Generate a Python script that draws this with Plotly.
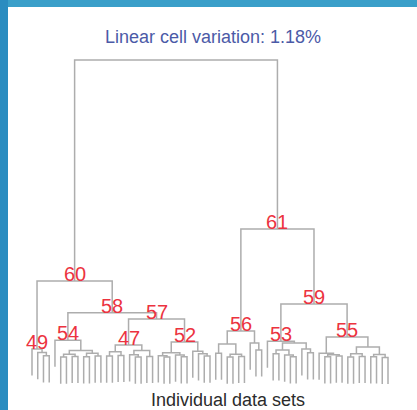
import plotly.graph_objects as go

# ---------------- data ----------------
# Dendrogram: every internal node is (merge height, left child, right child);
# L marks a single data set (leaf). Leaves are placed left to right in order.
L = None
HANG = 8.2  # how far each leaf hangs below its parent merge

c49 = (11.1, L, (10.0, L, (9.0, L, L)))
c54 = (13.8, L, (10.6, (9.5, (8.6, L, L), (8.8, L, L)),
                       (9.8, (8.7, L, L), (8.9, L, L))))
c47 = (12.3, (10.2, (8.9, L, L), (9.1, L, L)),
             (10.6, (9.3, L, (8.6, L, L)), (8.8, L, L)))
c52 = (13.2, (9.9, (9.0, L, (8.6, L, L)), (9.2, L, (8.7, L, L))),
             (10.4, L, (9.6, L, (8.9, L, L))))
c57 = (20.3, c47, c52)
c58 = (22.2, c54, c57)
c60 = (32.0, c49, c58)

c56 = (16.6, (12.6, (9.8, L, L), (9.5, (8.6, L, L), (8.8, L, L))),
             (12.9, L, (10.8, L, L)))
c53 = (13.5, L, (12.9, (10.8, (9.6, L, L), (9.2, L, (8.7, L, L))),
                       (11.1, L, (9.9, L, L))))
c55 = (14.8, (9.8, L, (9.3, (8.7, L, L), (8.9, L, L))),
             (11.7, (9.6, (8.6, L, L), (8.8, L, L)),
                    (9.4, (8.7, L, L), (8.5, L, L))))
c59 = (24.9, c53, c55)
c61 = (48.0, c56, c59)
root = (100.0, c60, c61)

cluster_labels = ["49", "54", "47", "52", "57", "58", "60",
                  "56", "53", "55", "59", "61"]
cluster_nodes = [c49, c54, c47, c52, c57, c58, c60,
                 c56, c53, c55, c59, c61]

title_text = "Linear cell variation: 1.18%"
xlabel_text = "Individual data sets"

# ---------------- layout of the tree ----------------
xs, ys = [], []
node_x = {}
leaf_counter = [0]


def walk(node):
    if node is L:
        x = leaf_counter[0]
        leaf_counter[0] += 1
        return x, None
    h, a, b = node
    xa, ha = walk(a)
    xb, hb = walk(b)
    ba = ha if ha is not None else h - HANG
    bb = hb if hb is not None else h - HANG
    xs.extend([xa, xa, xb, xb, None])
    ys.extend([ba, h, h, bb, None])
    x = (xa + xb) / 2
    for lab, nd in zip(cluster_labels, cluster_nodes):
        if nd is node:
            node_x[lab] = (x, h)
    return x, h


walk(root)

fig = go.Figure()
fig.add_trace(go.Scatter(x=xs, y=ys, mode="lines",
                         line=dict(color="#adadad", width=1.5),
                         hoverinfo="skip", showlegend=False))

ann = []
for lab in cluster_labels:
    x, h = node_x[lab]
    ann.append(dict(x=x, y=h, text=lab, showarrow=False, xref="x", yref="y",
                    yanchor="bottom", xanchor="center", yshift=-6,
                    font=dict(family="Liberation Sans, Arial", size=20,
                              color="#ec3340")))
ann.append(dict(x=0.5098, y=0.9098, xref="paper", yref="paper", text=title_text,
                showarrow=False, xanchor="center", yanchor="middle",
                font=dict(family="Liberation Sans, Arial", size=18,
                          color="#4b5aa7")))
ann.append(dict(x=0.5456, y=0.0244, xref="paper", yref="paper", text=xlabel_text,
                showarrow=False, xanchor="center", yanchor="middle",
                font=dict(family="Liberation Sans, Arial", size=18,
                          color="#2b2b2b")))

shapes = [
    dict(type="rect", xref="paper", yref="paper", x0=0, x1=1,
         y0=1 - 7 / 410, y1=1, fillcolor="#3a9fc9", line=dict(width=0),
         layer="above"),
    dict(type="rect", xref="paper", yref="paper", x0=0, x1=8 / 417,
         y0=0, y1=1, fillcolor="#2a8cc0", line=dict(width=0), layer="above"),
]

fig.update_layout(
    width=417, height=410,
    margin=dict(l=0, r=0, t=0, b=0),
    paper_bgcolor="white", plot_bgcolor="white",
    xaxis=dict(range=[-32 / 5.742, (417 - 32) / 5.742], visible=False,
               fixedrange=True),
    yaxis=dict(range=[(385 - 410) / 3.25, 385 / 3.25], visible=False,
               fixedrange=True),
    annotations=ann, shapes=shapes, showlegend=False,
)

fig.write_html("out.html")
